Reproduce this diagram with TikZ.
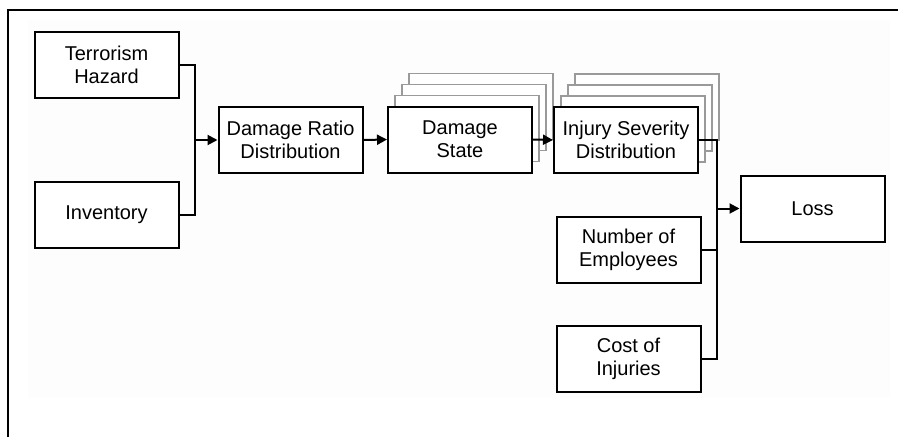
\documentclass[tikz,border=0pt]{standalone}
\usepackage{fontspec}
\setmainfont{Liberation Sans}
\usepackage{tikz}
\usetikzlibrary{arrows.meta}
\definecolor{framegray}{HTML}{FDFDFD}
\definecolor{ghostgray}{HTML}{9A9A9A}

\tikzset{
  stepbox/.style={draw=black, line width=2pt, fill=white,
    minimum width=144pt, minimum height=66pt, inner sep=2pt,
    align=center, font=\fontsize{20}{23}\selectfont},
  ghostbox/.style={draw=ghostgray, line width=1.6pt, fill=white,
    minimum width=144pt, minimum height=66pt},
  link/.style={line width=2pt},
  flow/.style={link, -{Triangle[length=10pt,width=10pt]}}
}

\begin{document}
\begin{tikzpicture}[x=1pt, y=-1pt]
  \useasboundingbox (0,0) rectangle (898,437);
  % faint panel and outer frame
  \fill[framegray] (28,20) rectangle (890,398);
  \draw[line width=2.5pt] (8,437) -- (8,10) -- (898,10);

  % input boxes
  \node[stepbox] (hazard) at (106.5,64.5) {Terrorism\\Hazard};
  \node[stepbox] (inventory) at (106.5,215) {Inventory};
  \node[stepbox] (ratio) at (290.5,140) {Damage Ratio\\Distribution};

  % stacked copies behind damage state and injury severity
  \foreach \k in {3,2,1} {
    \node[ghostbox] (stateghost\k) at (460+7*\k,139.5-11*\k) {};
    \node[ghostbox] (injuryghost\k) at (626+7*\k,140-11*\k) {};
  }
  \node[stepbox] (state) at (460,139.5) {Damage\\State};
  \node[stepbox] (injury) at (626,140) {Injury Severity\\Distribution};

  \node[stepbox] (employees) at (628.5,249.5) {Number of\\Employees};
  \node[stepbox] (cost) at (628.5,358.5) {Cost of\\Injuries};
  \node[stepbox] (loss) at (812.5,208.5) {Loss};

  % junctions
  \coordinate (joinA) at (195,140);
  \coordinate (joinB) at (717,208.5);

  \draw[link] (hazard.east) -| (joinA) |- (inventory.east);
  \draw[flow] (joinA) -- (ratio.west);
  \draw[flow] (ratio.east) -- (state.west);
  \draw[flow] (state.east) -- (injury.west);

  \draw[link] (injury.east) -| (joinB);
  \draw[link] (employees.east) -| (joinB);
  \draw[link] (cost.east) -| (joinB);
  \draw[flow] (joinB) -- (loss.west);
\end{tikzpicture}
\end{document}
